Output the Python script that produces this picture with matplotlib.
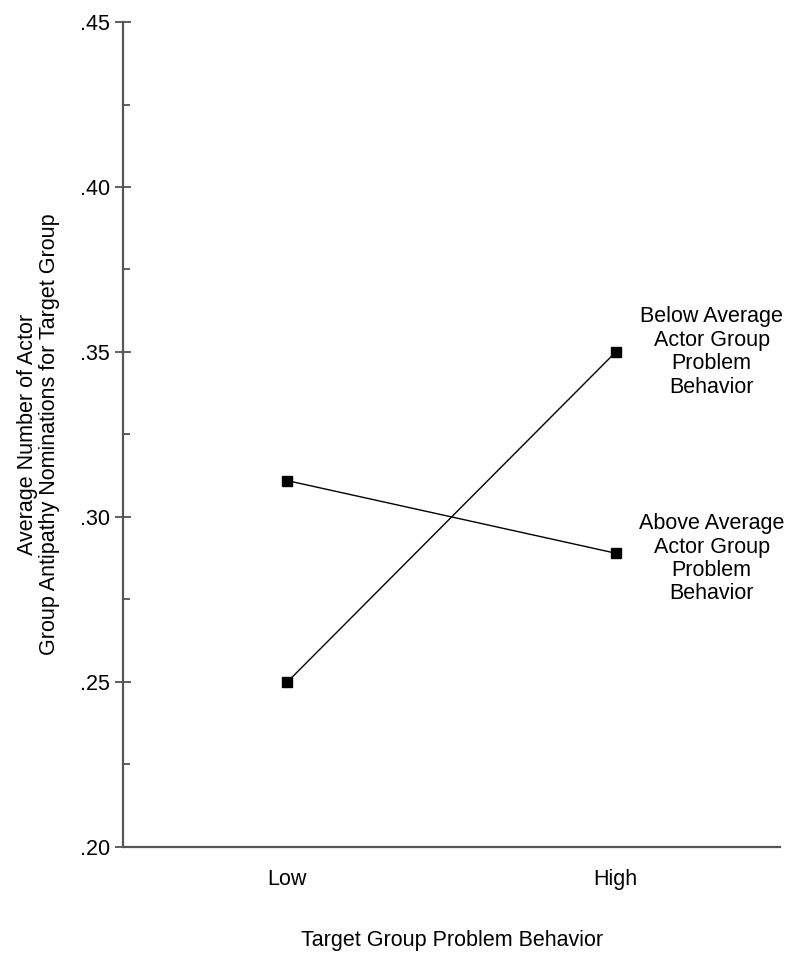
import matplotlib
matplotlib.use("Agg")
import matplotlib.pyplot as plt
from matplotlib.ticker import MultipleLocator, FixedLocator

plt.rcParams['font.family'] = ['Liberation Sans', 'DejaVu Sans']

categories = ["Low", "High"]
below_avg = [0.250, 0.350]
above_avg = [0.311, 0.289]
series_labels = ["Below Average\nActor Group\nProblem\nBehavior",
                 "Above Average\nActor Group\nProblem\nBehavior"]
yticks = [0.20, 0.25, 0.30, 0.35, 0.40, 0.45]
ytick_labels = [".20", ".25", ".30", ".35", ".40", ".45"]

FS = 15.5

fig = plt.figure(figsize=(8, 9.58), dpi=100)
ax = fig.add_axes([0.154, 0.116, 0.821, 0.861])

x = list(range(len(categories)))
for vals in (below_avg, above_avg):
    ax.plot(x, vals, color='black', linewidth=1.0, marker='s', markersize=7,
            markerfacecolor='black', markeredgecolor='black')

label_dy = [0, -4]
for vals, lab, dy in zip((below_avg, above_avg), series_labels, label_dy):
    ax.annotate(lab, xy=(x[-1], vals[-1]), xytext=(69, dy), textcoords='offset points',
                ha='center', va='center', fontsize=FS, linespacing=1.15)

ax.set_xlim(-0.5, 1.5)
ax.set_ylim(0.20, 0.45)
ax.set_xticks(x)
ax.set_xticklabels(categories, fontsize=FS)
ax.tick_params(axis='x', length=0, pad=16)
ax.yaxis.set_major_locator(FixedLocator(yticks))
ax.set_yticklabels(ytick_labels, fontsize=FS)
ax.yaxis.set_minor_locator(MultipleLocator(0.025))
ax.tick_params(axis='y', which='major', direction='inout', length=11, width=1.2, color='#444444', pad=4)
ax.tick_params(axis='y', which='minor', direction='in', length=5, width=1.2, color='#444444')

for s in ('top', 'right'):
    ax.spines[s].set_visible(False)
for s in ('left', 'bottom'):
    ax.spines[s].set_linewidth(1.6)
    ax.spines[s].set_color('#555555')

ax.set_ylabel("Average Number of Actor\nGroup Antipathy Nominations for Target Group",
              fontsize=FS, labelpad=14, linespacing=1.1)
ax.set_xlabel("Target Group Problem Behavior", fontsize=FS, labelpad=29)

fig.savefig("out.png", dpi=100)
